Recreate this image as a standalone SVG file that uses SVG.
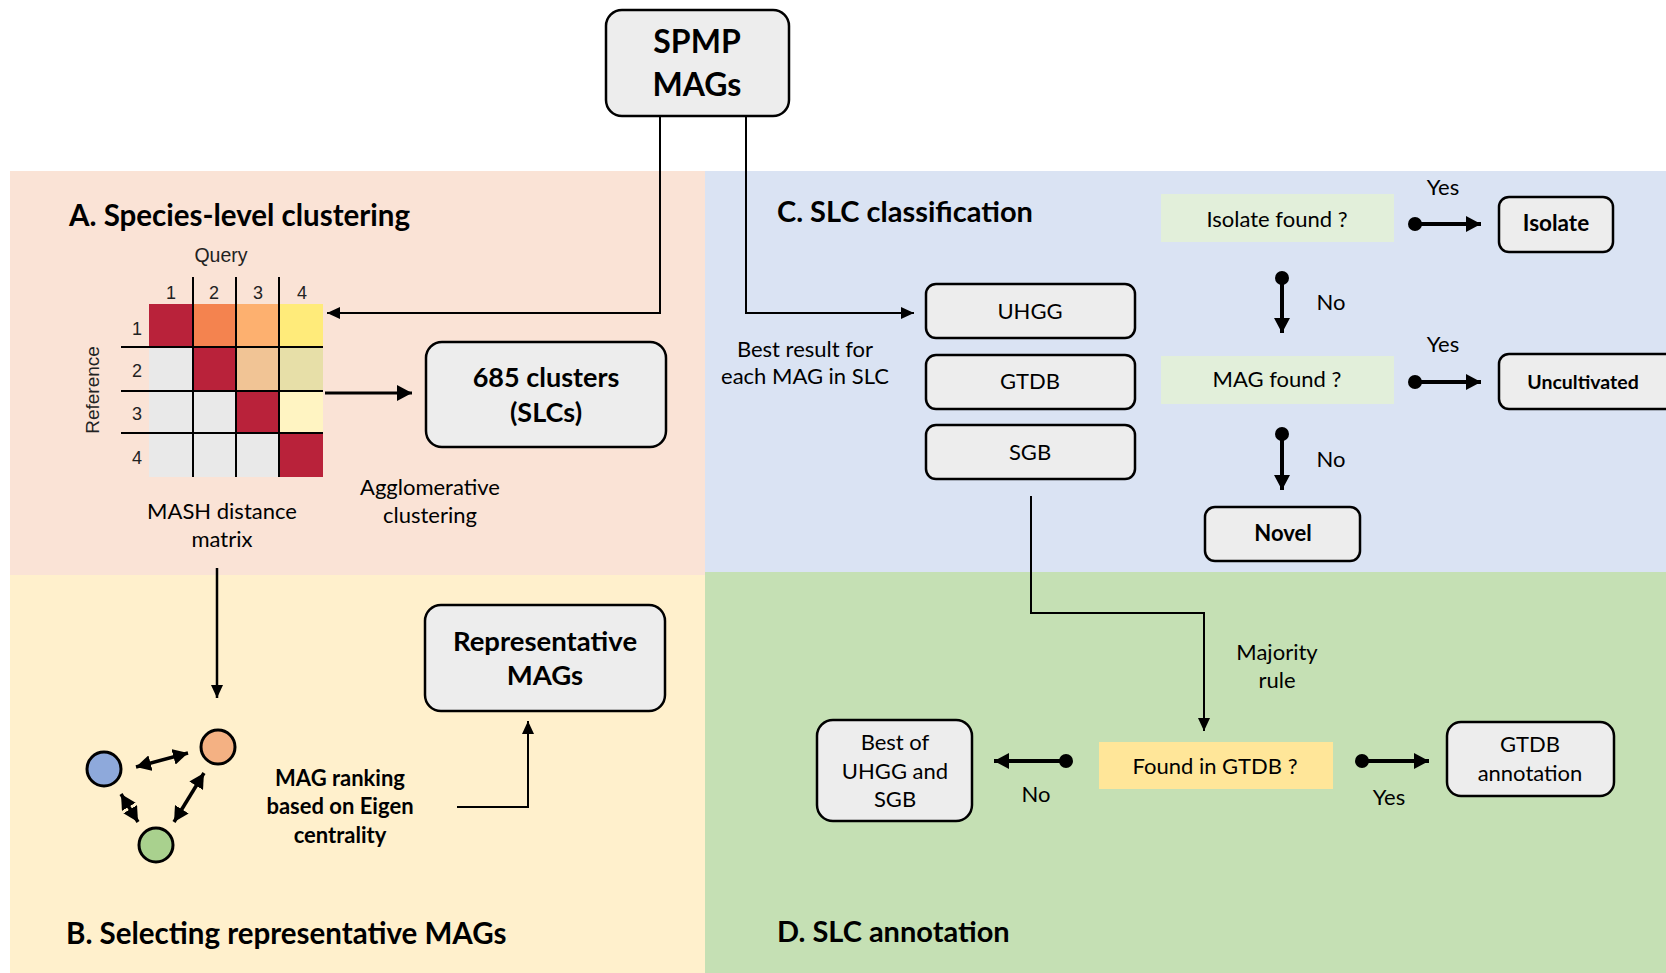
<svg xmlns="http://www.w3.org/2000/svg" width="1666" height="973" viewBox="0 0 1666 973">
<defs>
<style>
.t{font-family:Lato,"Open Sans","DejaVu Sans",sans-serif;fill:#000}
.r{font-family:"Liberation Sans",Arial,sans-serif;fill:#222}
.b{font-weight:bold}
.box{fill:#EDEDED;stroke:#000;stroke-width:2.5}
.ln{fill:none;stroke:#000;stroke-width:2}
.thk{fill:none;stroke:#000;stroke-width:4}
.grid{stroke:#000;stroke-width:2}
</style>
<marker id="arr" markerUnits="userSpaceOnUse" markerWidth="14" markerHeight="12" refX="13" refY="6" orient="auto"><path d="M0,0 L13,6 L0,12 z" fill="#000"/></marker>
<marker id="arrT" markerUnits="userSpaceOnUse" markerWidth="16" markerHeight="16" refX="15" refY="8" orient="auto-start-reverse"><path d="M0,0 L15,8 L0,16 z" fill="#000"/></marker>
</defs>
<rect width="1666" height="973" fill="#fff"/>
<!-- panels -->
<rect x="10" y="171" width="695" height="404" fill="#FAE3D6"/>
<rect x="10" y="575" width="695" height="398" fill="#FFF0CC"/>
<rect x="705" y="171" width="961" height="401" fill="#DAE3F3"/>
<rect x="705" y="572" width="961" height="401" fill="#C5E0B4"/>

<text class="t b" x="69" y="226" font-size="29.5">A. Species-level clustering</text>
<text class="t b" x="66" y="944" font-size="29.5">B. Selecting representative MAGs</text>
<text class="t b" x="777" y="222" font-size="29">C. SLC classification</text>
<text class="t b" x="777" y="942" font-size="29">D. SLC annotation</text>

<!-- matrix -->
<g id="matrix">
<rect x="149" y="304" width="44" height="44" fill="#B9223A"/>
<rect x="193" y="304" width="43" height="44" fill="#F4834F"/>
<rect x="236" y="304" width="43" height="44" fill="#FDB06F"/>
<rect x="279" y="304" width="44" height="44" fill="#FFEB7A"/>
<rect x="149" y="347" width="44" height="44" fill="#E9E9E9"/>
<rect x="193" y="347" width="43" height="44" fill="#B9223A"/>
<rect x="236" y="347" width="43" height="44" fill="#F1C495"/>
<rect x="279" y="347" width="44" height="44" fill="#E7DFA8"/>
<rect x="149" y="391" width="44" height="43" fill="#E9E9E9"/>
<rect x="193" y="391" width="43" height="43" fill="#E9E9E9"/>
<rect x="236" y="391" width="43" height="43" fill="#B9223A"/>
<rect x="279" y="391" width="44" height="43" fill="#FFF4C2"/>
<rect x="149" y="433" width="44" height="44" fill="#E9E9E9"/>
<rect x="193" y="433" width="43" height="44" fill="#E9E9E9"/>
<rect x="236" y="433" width="43" height="44" fill="#E9E9E9"/>
<rect x="279" y="433" width="44" height="44" fill="#B9223A"/>
<line class="grid" x1="193" y1="277" x2="193" y2="477"/>
<line class="grid" x1="236" y1="277" x2="236" y2="477"/>
<line class="grid" x1="279" y1="277" x2="279" y2="477"/>
<line class="grid" x1="121" y1="347" x2="323" y2="347"/>
<line class="grid" x1="121" y1="391" x2="323" y2="391"/>
<line class="grid" x1="121" y1="433" x2="323" y2="433"/>
<g class="r" font-size="18" text-anchor="middle">
<text x="221" y="262" font-size="19.5">Query</text>
<text x="171" y="299">1</text><text x="214" y="299">2</text><text x="258" y="299">3</text><text x="302" y="299">4</text>
<text x="137" y="335">1</text><text x="137" y="377">2</text><text x="137" y="420">3</text><text x="137" y="464">4</text>
<text transform="translate(99,390) rotate(-90)" font-size="19">Reference</text>
</g>
</g>
<g class="t" font-size="22" text-anchor="middle">
<text x="222" y="519">MASH distance</text><text x="222" y="547">matrix</text>
<text x="430" y="495">Agglomerative</text><text x="430" y="523">clustering</text>
<text x="805" y="357">Best result for</text><text x="805" y="384">each MAG in SLC</text>
<text x="1443" y="195">Yes</text><text x="1443" y="352">Yes</text>
<text x="1331" y="310">No</text><text x="1331" y="467">No</text>
<text x="1277" y="660">Majority</text><text x="1277" y="688">rule</text>
<text x="1036" y="802">No</text><text x="1389" y="805">Yes</text>
</g>

<!-- nodes -->
<g id="spmp"><rect class="box" x="606" y="10" width="183" height="106" rx="16"/>
<text class="t b" x="697" y="53" font-size="32" text-anchor="middle">SPMP</text>
<text class="t b" x="697" y="96" font-size="32" text-anchor="middle">MAGs</text></g>
<g id="clusters"><rect class="box" x="426" y="342" width="240" height="105" rx="16"/>
<text class="t b" x="546" y="387" font-size="27" text-anchor="middle">685 clusters</text>
<text class="t b" x="546" y="422" font-size="27" text-anchor="middle">(SLCs)</text></g>
<g id="repmags"><rect class="box" x="425" y="605" width="240" height="106" rx="16"/>
<text class="t b" x="545" y="651" font-size="27.5" text-anchor="middle">Representative</text>
<text class="t b" x="545" y="685" font-size="27.5" text-anchor="middle">MAGs</text></g>
<g id="ranking"><g class="t b" font-size="22" text-anchor="middle">
<text x="340" y="786">MAG ranking</text><text x="340" y="814">based on Eigen</text><text x="340" y="843">centrality</text></g></g>
<g id="graph">
<circle cx="104" cy="769" r="17" fill="#8EA9DB" stroke="#000" stroke-width="3"/>
<circle cx="218" cy="747" r="17" fill="#F4B183" stroke="#000" stroke-width="3"/>
<circle cx="156" cy="845" r="17" fill="#A9D18E" stroke="#000" stroke-width="3"/>
</g>
<g id="uhgg"><rect class="box" x="926" y="284" width="209" height="54" rx="10"/>
<text class="t" x="1030" y="319" font-size="22" text-anchor="middle">UHGG</text></g>
<g id="gtdb"><rect class="box" x="926" y="355" width="209" height="54" rx="10"/>
<text class="t" x="1030" y="389" font-size="22" text-anchor="middle">GTDB</text></g>
<g id="sgb"><rect class="box" x="926" y="425" width="209" height="54" rx="10"/>
<text class="t" x="1030" y="460" font-size="22" text-anchor="middle">SGB</text></g>
<g id="isofound"><rect x="1161" y="194" width="233" height="48" fill="#E2EFDA"/>
<text class="t" x="1277" y="227" font-size="22" text-anchor="middle">Isolate found ?</text></g>
<g id="magfound"><rect x="1161" y="356" width="233" height="48" fill="#E2EFDA"/>
<text class="t" x="1277" y="387" font-size="22" text-anchor="middle">MAG found ?</text></g>
<g id="isolate"><rect class="box" x="1499" y="197" width="114" height="55" rx="10"/>
<text class="t b" x="1556" y="231" font-size="22.5" text-anchor="middle">Isolate</text></g>
<g id="uncult"><rect class="box" x="1499" y="354" width="180" height="55" rx="10"/>
<text class="t b" x="1583" y="389" font-size="19.5" text-anchor="middle">Uncultivated</text></g>
<g id="novel"><rect class="box" x="1205" y="507" width="155" height="54" rx="10"/>
<text class="t b" x="1283" y="541" font-size="22" text-anchor="middle">Novel</text></g>
<g id="foundgtdb"><rect x="1099" y="742" width="234" height="47" fill="#FFE699"/>
<text class="t" x="1215" y="774" font-size="22" text-anchor="middle">Found in GTDB ?</text></g>
<g id="bestof"><rect class="box" x="817" y="720" width="155" height="101" rx="16"/>
<g class="t" font-size="22" text-anchor="middle"><text x="895" y="750">Best of</text><text x="895" y="779">UHGG and</text><text x="895" y="807">SGB</text></g></g>
<g id="gtdbann"><rect class="box" x="1447" y="722" width="167" height="74" rx="14"/>
<g class="t" font-size="22" text-anchor="middle"><text x="1530" y="752">GTDB</text><text x="1530" y="781">annotation</text></g></g>

<!-- connectors -->
<g id="connectors">
<polyline class="ln" points="660,116 660,313 327,313" marker-end="url(#arr)"/>
<polyline class="ln" points="746,116 746,313 914,313" marker-end="url(#arr)"/>
<line x1="325" y1="393" x2="412" y2="393" stroke="#000" stroke-width="3" marker-end="url(#arrT)"/>
<line x1="217" y1="568" x2="217" y2="698" stroke="#000" stroke-width="2.5" marker-end="url(#arr)"/>
<polyline class="ln" points="457,807 528,807 528,721" marker-end="url(#arr)"/>
<line x1="136" y1="767" x2="188" y2="753" stroke="#000" stroke-width="3.5" marker-start="url(#arrT)" marker-end="url(#arrT)"/>
<line x1="204" y1="773" x2="174" y2="822" stroke="#000" stroke-width="3.5" marker-start="url(#arrT)" marker-end="url(#arrT)"/>
<line x1="121" y1="794" x2="138" y2="822" stroke="#000" stroke-width="3.5" marker-start="url(#arrT)" marker-end="url(#arrT)"/>
<polyline class="ln" points="1031,496 1031,613 1204,613 1204,731" marker-end="url(#arr)"/>
<circle cx="1415" cy="224" r="7"/><line class="thk" x1="1415" y1="224" x2="1481" y2="224" marker-end="url(#arrT)"/>
<circle cx="1415" cy="382" r="7"/><line class="thk" x1="1415" y1="382" x2="1481" y2="382" marker-end="url(#arrT)"/>
<circle cx="1282" cy="278" r="7"/><line class="thk" x1="1282" y1="278" x2="1282" y2="333" marker-end="url(#arrT)"/>
<circle cx="1282" cy="434" r="7"/><line class="thk" x1="1282" y1="434" x2="1282" y2="490" marker-end="url(#arrT)"/>
<circle cx="1066" cy="761" r="7"/><line class="thk" x1="1066" y1="761" x2="994" y2="761" marker-end="url(#arrT)"/>
<circle cx="1362" cy="761" r="7"/><line class="thk" x1="1362" y1="761" x2="1429" y2="761" marker-end="url(#arrT)"/>
</g>
</svg>
